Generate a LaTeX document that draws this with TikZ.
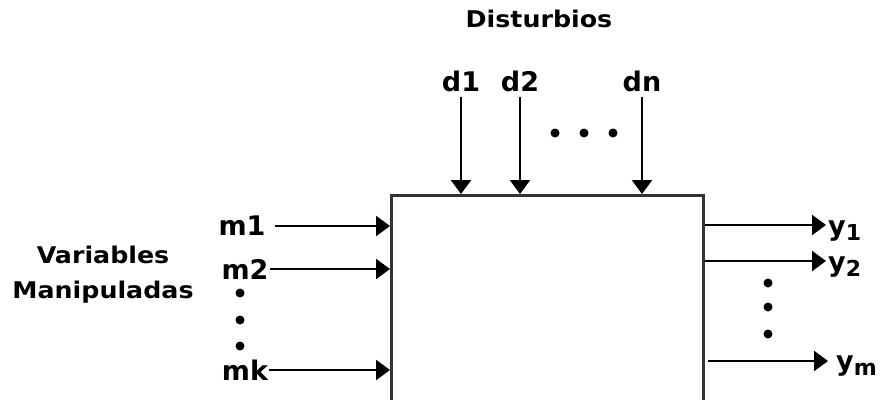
\documentclass[tikz,border=0pt]{standalone}
\usepackage{fontspec}
\setmainfont{DejaVu Sans}
\newfontfamily\widebold{DejaVu Sans Bold}[FakeStretch=1.1]
\usetikzlibrary{arrows.meta}
\tikzset{
  arr/.style={line width=2.4pt,-{Triangle[length=14pt,width=20pt]}},
  lbl/.style={font=\bfseries\fontsize{27}{27}\selectfont,inner sep=0pt},
  ttl/.style={font=\widebold\fontsize{23}{35}\selectfont,inner sep=0pt,align=center},
  dotn/.style={circle,fill,inner sep=0pt,minimum size=9pt},
  blk/.style={draw,line width=2.6pt,draw=black!80,minimum width=312pt,minimum height=230pt,inner sep=0pt}
}
\newcommand{\ysub}[1]{y\raisebox{-5pt}{\fontsize{22}{22}\selectfont #1}}
\begin{document}
\begin{tikzpicture}[x=1pt,y=-1pt]
\useasboundingbox (0,0) rectangle (883,399);
\clip (0,0) rectangle (883,399);
% block
\node[blk,anchor=north west] (box) at (390,194) {};
% top
\node[ttl] (dist) at (539,19) {Disturbios};
\node[lbl] (d1) at (461,81) {d1};
\node[lbl] (d2) at (520,81) {d2};
\node[lbl] (dn) at (642,81) {dn};
\draw[arr] ([yshift=-5pt]d1.south) -- (d1.south |- box.north);
\draw[arr] ([yshift=-5pt]d2.south) -- (d2.south |- box.north);
\draw[arr] ([yshift=-5pt]dn.south) -- (dn.south |- box.north);
\node[dotn] (t1) at (555,133) {};
\node[dotn] (t2) at (584,133) {};
\node[dotn] (t3) at (613,133) {};
% left
\node[ttl] (var) at (103,275) {Variables\\Manipuladas};
\node[lbl] (m1) at (242,226) {m1};
\node[lbl] (m2) at (245,269) {m2};
\node[lbl] (mk) at (245,370) {mk};
\draw[arr] ([xshift=9pt]m1.east) -- (m1.east -| box.west);
\draw[arr] ([xshift=1pt]m2.east) -- (m2.east -| box.west);
\draw[arr] ([xshift=1pt]mk.east) -- (mk.east -| box.west);
\node[dotn] (l1) at (240,293) {};
\node[dotn] (l2) at (240,320) {};
\node[dotn] (l3) at (240,346) {};
% right
\coordinate (o1) at (826,225);
\coordinate (o2) at (826,261);
\coordinate (om) at (828,361);
\node[lbl,anchor=base west] (y1) at (828,235) {\ysub{1}};
\node[lbl,anchor=base west] (y2) at (828,271) {\ysub{2}};
\node[lbl,anchor=base west] (ym) at (836,370) {\ysub{m}};
\draw[arr] (o1 -| box.east) -- (o1);
\draw[arr] (o2 -| box.east) -- (o2);
\draw[arr] ([xshift=3pt]om -| box.east) -- (om);
\node[dotn] (r1) at (768,283) {};
\node[dotn] (r2) at (768,307) {};
\node[dotn] (r3) at (768,334) {};
\end{tikzpicture}
\end{document}
